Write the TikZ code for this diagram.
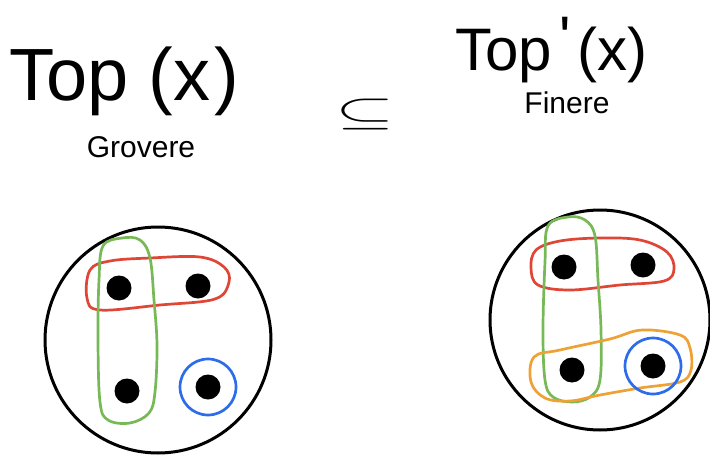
\documentclass[tikz,border=0pt]{standalone}
\usepackage{fontspec}
\setmainfont{Liberation Sans}
\usepackage{amssymb}
\usepackage{tikz}
\definecolor{redpen}{HTML}{DF4636}
\definecolor{greenpen}{HTML}{78B957}
\definecolor{bluepen}{HTML}{2D6CEB}
\definecolor{orangepen}{HTML}{EEA235}
\tikzset{
  world/.style={draw=black, line width=3pt},
  pt/.style={circle, fill=black, inner sep=0pt, minimum size=25pt},
  loop/.style={line width=2.7pt, line join=round},
}

\begin{document}
\begin{tikzpicture}[x=1pt, y=-1pt, line cap=round]
  \useasboundingbox (0,0) rectangle (710,455);
  % titles
  \node[anchor=base west, inner sep=0pt, font=\fontsize{74}{80}\selectfont] (topc) at (9,100) {Top\hspace{20pt}(x\hspace{4pt})};
  \node[inner sep=0pt, font=\fontsize{30}{34}\selectfont] (coarse) at (141,147) {Grovere};
  \node[inner sep=0pt, xscale=7.6, yscale=4] (sub) at (365,114) {$\subseteq$};
  \node[anchor=base west, inner sep=0pt, font=\fontsize{60}{64}\selectfont] (topf) at (455,70) {Top\hspace{8pt}\raisebox{12pt}{\textquotesingle}\hspace{6pt}(x)};
  \node[inner sep=0pt, font=\fontsize{30}{34}\selectfont] (fine) at (567,103) {Finere};
  % coarser topology
  \draw[world] (158,340) circle (113);
  \node[pt] (a1) at (119,288) {};
  \node[pt] (b1) at (198,286) {};
  \node[pt] (c1) at (127,391) {};
  \node[pt] (d1) at (208,387) {};
  \draw[loop, redpen] plot[smooth cycle, tension=0.6] coordinates {(90,270) (110,261) (150,258) (200,257) (224,267) (229,282) (215,299) (160,305) (100,310) (87,298)};
  \draw[loop, greenpen] plot[smooth cycle, tension=0.6] coordinates {(103,246) (122,238) (140,240) (150,258) (154,300) (157,345) (155,392) (149,413) (130,423) (108,420) (100,402) (98,340) (99,280)};
  \draw[loop, bluepen] (d1) circle (28);
  % finer topology
  \draw[world] (600,320) circle (110);
  \node[pt] (a2) at (564,267) {};
  \node[pt] (b2) at (643,265) {};
  \node[pt] (c2) at (572,370) {};
  \node[pt] (d2) at (653,366) {};
  \draw[loop, redpen] plot[smooth cycle, tension=0.6] coordinates {(536,250) (560,241) (600,238) (640,240) (667,252) (674,269) (664,281) (620,285) (570,290) (538,285) (531,268)};
  \draw[loop, greenpen] plot[smooth cycle, tension=0.6] coordinates {(548,226) (568,217) (585,220) (595,236) (598,280) (601,330) (600,380) (590,397) (572,402) (553,397) (545,380) (543,330) (545,262)};
  \draw[loop, orangepen] plot[smooth cycle, tension=0.6] coordinates {(534,357) (560,350) (610,339) (642,330) (680,335) (690,348) (691,370) (680,382) (640,388) (600,395) (570,401) (545,398) (531,382)};
  \draw[loop, bluepen] (d2) circle (28);
\end{tikzpicture}
\end{document}
